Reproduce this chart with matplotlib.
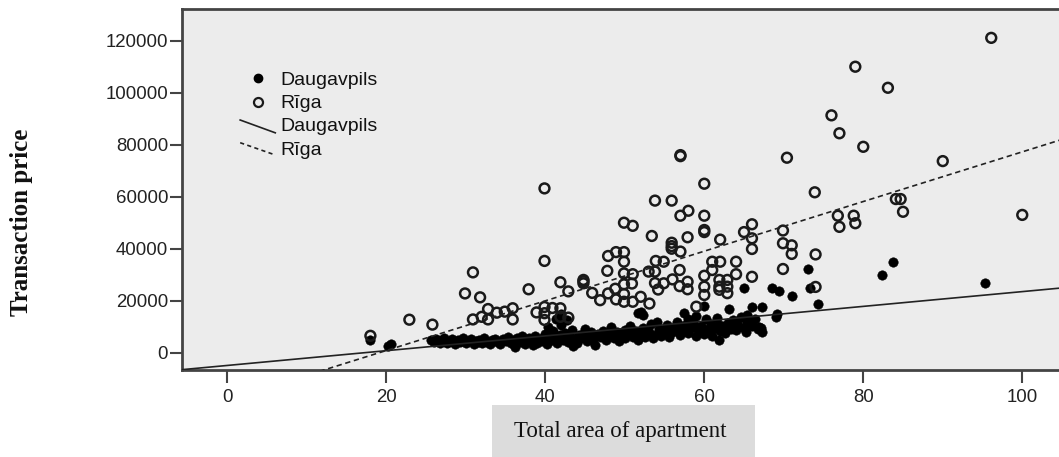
import matplotlib
matplotlib.use("Agg")
import matplotlib.pyplot as plt
from matplotlib.lines import Line2D
from matplotlib.patches import Rectangle
import numpy as np

# ---------------- data ----------------
riga_area = [96.1, 79.0, 83.1, 76.0, 77.0, 80.0, 57.0, 57.0, 70.4, 90.0, 60.0, 39.9, 73.9,
             53.8, 55.9, 84.1, 84.7, 58.0, 57.0, 60.0, 85.0, 100.0, 76.8, 78.8, 77.0, 79.0,
             49.9, 51.0, 53.4, 57.9, 60.0, 60.0, 62.0, 65.0, 66.0, 66.0, 66.0, 69.9, 69.9,
             71.0, 71.0, 74.0, 55.9, 55.9, 55.9, 57.0, 47.9, 48.9, 49.9, 39.9, 49.9, 53.9,
             54.9, 61.0, 62.0, 64.0, 30.9, 47.8, 49.9, 51.0, 53.0, 53.8, 56.9, 61.0, 69.9,
             66.0, 64.0, 44.8, 44.8, 44.8, 41.9, 37.9, 42.9, 45.9, 46.9, 47.9, 48.8, 49.9,
             50.9, 49.9, 48.9, 49.9, 51.0, 52.0, 53.1, 53.8, 54.9, 54.2, 56.0, 56.9, 57.9,
             57.9, 60.0, 60.0, 60.0, 61.9, 62.9, 61.9, 62.9, 61.9, 62.9, 59.0, 74.0, 29.9,
             31.8, 22.9, 25.8, 30.9, 32.0, 32.8, 33.9, 34.9, 35.9, 35.9, 32.8, 38.9, 39.9,
             40.9, 41.9, 39.9, 39.9, 41.9, 42.9, 18.0]
riga_price = [121100, 110000, 101900, 91300, 84400, 79200, 76000, 75600, 75000, 73700, 65000,
              63200, 61700, 58500, 58500, 59100, 59100, 54600, 52700, 52700, 54200, 53000,
              52700, 52700, 48400, 49800, 50000, 48800, 44900, 44400, 47200, 46400, 43500,
              46400, 49400, 44000, 39900, 47000, 42100, 41300, 38000, 37800, 42300, 41000,
              40000, 38900, 37200, 38700, 38700, 35300, 35000, 35300, 35000, 35000, 35000,
              35000, 30900, 31500, 30500, 30200, 31200, 31200, 31800, 31800, 32200, 29200,
              30200, 28000, 27500, 26700, 27100, 24400, 23600, 23000, 20200, 22800, 24600,
              26300, 26600, 22600, 20500, 19600, 19600, 21500, 18900, 26800, 26700, 24300,
              28200, 25600, 27300, 24400, 29600, 25400, 22200, 28000, 28000, 25400, 25400,
              24200, 22900, 17700, 25300, 22800, 21300, 12700, 10800, 12800, 13800, 16800,
              15400, 15800, 17100, 12800, 12800, 15500, 17600, 17200, 17100, 15200, 12600,
              13800, 13500, 6500]

daug_area = [18.0, 20.2, 20.6, 73.1, 83.8, 82.4, 95.3, 65.0, 68.5, 69.4, 71.0, 73.3, 74.3,
             63.1, 66.0, 67.2, 69.2, 69.0, 61.8, 67.1, 66.9, 60.0, 65.4, 65.4, 52.0, 52.3,
             51.7, 54.1, 41.7, 42.7, 41.3, 42.0,
             25.6, 26.0, 26.3, 26.7, 27.0, 27.3, 27.6, 28.0, 28.3, 28.7, 29.0, 29.3, 29.7,
             30.0, 30.3, 30.6, 31.0, 31.3, 31.7, 32.0, 32.3, 32.7, 33.0, 33.3, 33.7, 34.0,
             34.3, 34.7, 35.0, 35.3, 35.7, 36.0, 36.2, 36.5, 36.8, 37.1, 37.4, 37.8, 38.0,
             38.3, 38.5, 38.7, 39.0, 39.3, 39.6, 40.0, 40.0, 40.2, 40.4, 40.6, 40.8, 41.0,
             41.2, 41.5, 41.8, 42.0, 42.2, 42.5, 42.8, 43.0, 43.3, 43.5, 43.6, 44.0, 44.3,
             44.6, 45.0, 45.2, 45.5, 45.8, 46.0, 46.3, 46.6, 47.0, 47.3, 47.6, 48.0, 48.3,
             48.6, 49.0, 49.3, 49.6, 50.0, 50.0, 50.3, 50.6, 51.0, 51.3, 51.6, 52.0, 52.3,
             52.6, 53.0, 53.3, 53.6, 54.0, 54.3, 54.6, 55.0, 55.3, 55.6, 56.0, 56.3, 56.6,
             57.0, 57.3, 57.5, 57.6, 58.0, 58.0, 58.3, 58.6, 59.0, 59.0, 59.3, 59.6, 60.0,
             60.0, 60.2, 60.5, 60.8, 61.0, 61.3, 61.6, 62.0, 62.3, 62.6, 63.0, 63.3, 63.6,
             64.0, 64.3, 64.6, 65.0, 65.3, 65.7, 66.0, 66.4, 66.8, 67.2,
             27.8, 29.5, 31.5, 33.5, 35.5, 37.6, 39.8, 44.8, 46.8, 48.8, 50.8, 54.8, 56.8,
             58.8, 61.8, 63.8, 45.5, 47.5, 55.5, 62.8]
daug_price = [5000, 2600, 3500, 32100, 35000, 29900, 26700, 25000, 25000, 23800, 21800, 25000,
              18900, 16800, 17700, 17700, 14700, 13800, 4900, 9400, 9900, 17800, 14500, 11900,
              15800, 14500, 15100, 11900, 13900, 12600, 12900, 15000,
              4800, 4200, 5400, 3900, 4700, 5800, 3600, 4500, 5100, 3400, 4900, 4100, 5600,
              3800, 4600, 5300, 3200, 4400, 5000, 3900, 5700, 4300, 3500, 4800, 5400, 4000,
              3300, 5100, 4500, 6000, 3700, 4900, 2300, 5500, 4200, 6300, 3500, 4700, 5800,
              4100, 2800, 6600, 3800, 5200, 4500, 7200, 5600, 3400, 9800, 6300, 4700, 8300,
              5300, 3900, 6900, 10500, 5000, 7600, 4300, 6000, 8800, 2600, 5400, 3800, 7000,
              5800, 9300, 4600, 6600, 8100, 5200, 3000, 7300, 6000, 8500, 4900, 6800, 10000,
              5600, 7800, 4400, 6500, 8900, 5700, 7200, 10400, 6200, 8300, 4900, 7500, 9600,
              6000, 8100, 11000, 5500, 7300, 9200, 6600, 8700, 10800, 5900, 7800, 9900, 12000,
              6800, 8600, 15200, 10600, 7400, 13000, 9400, 11800, 6300, 14000, 8200, 10200, 7200,
              9300, 12800, 8000, 11000, 6600, 9600, 13200, 8400, 10400, 7400, 11600, 9000, 12600,
              8600, 10800, 13600, 9500, 7800, 11500, 10200, 12800, 9000, 8000,
              4300, 4700, 4200, 4400, 5000, 5300, 6000, 7200, 6400, 7100, 7600, 8200, 9100,
              9800, 10600, 11200, 5400, 5900, 7000, 9400]

# fitted lines: price = intercept + slope * area
fit_names = ["Daugavpils", "Rīga"]
fit_intercept = [-4900, -18250]
fit_slope = [284, 955]

x_ticks = [0, 20, 40, 60, 80, 100]
y_ticks = [0, 20000, 40000, 60000, 80000, 100000, 120000]
x_label = "Total area of apartment"
y_label = "Transaction price"

# ---------------- figure ----------------
W, H = 1059, 457
fig = plt.figure(figsize=(W / 100, H / 100), dpi=100)
fig.patch.set_facecolor("white")

ax_l, ax_r, ax_t, ax_b = 182, 1062, 9, 370
ax = fig.add_axes([ax_l / W, 1 - ax_b / H, (ax_r - ax_l) / W, (ax_b - ax_t) / H])
ax.set_facecolor("#ececec")
ax.set_xlim(-5.7, 105.0)
ax.set_ylim(-6650, 132200)

for s in ["left", "top", "bottom"]:
    ax.spines[s].set_linewidth(2.0)
    ax.spines[s].set_color("#444444")
ax.spines["right"].set_visible(False)

tick_font = dict(family="Liberation Sans", size=13.4)
ax.set_xticks(x_ticks)
ax.set_yticks(y_ticks)
ax.set_xticklabels([str(t) for t in x_ticks], **tick_font, color="#222222")
ax.set_yticklabels([str(t) for t in y_ticks], **tick_font, color="#222222")
ax.tick_params(axis="both", direction="out", length=9, width=1.5, color="#444444")
ax.tick_params(axis="x", pad=5)
ax.tick_params(axis="y", pad=1)

# scatter
ax.scatter(daug_area, daug_price, s=46, c="black", edgecolors="black", linewidths=0.4, zorder=3)
ax.scatter(riga_area, riga_price, s=50, facecolors="none", edgecolors="#1a1a1a", linewidths=1.8, zorder=4)

# fit lines
xl = np.array(ax.get_xlim())
styles = ["-", (0, (3.2, 2.2))]
for name, b0, b1, ls in zip(fit_names, fit_intercept, fit_slope, styles):
    ax.plot(xl, b0 + b1 * xl, color="#222222", lw=1.2, ls=ls, zorder=5)

# legend drawn by hand in axes coordinates (SPSS-style diagonal line handles)
tr = ax.transAxes
leg_font = dict(family="Liberation Sans", size=14, color="#111111", va="center", ha="left")
ax.plot([0.0861], [0.808], "o", ms=6, color="black", transform=tr, zorder=6)
ax.text(0.1117, 0.801, "Daugavpils", transform=tr, **leg_font)
ax.plot([0.0861], [0.742], "o", ms=6.5, mfc="none", mec="#1a1a1a", mew=1.6, transform=tr, zorder=6)
ax.text(0.1117, 0.737, "Rīga", transform=tr, **leg_font)
ax.add_line(Line2D([0.0661, 0.106], [0.6925, 0.657], color="#222222", lw=1.2, transform=tr))
ax.text(0.1117, 0.674, "Daugavpils", transform=tr, **leg_font)
ax.add_line(Line2D([0.0661, 0.106], [0.6296, 0.5956], color="#222222", lw=1.2,
                   ls=(0, (2.5, 2)), transform=tr))
ax.text(0.1117, 0.607, "Rīga", transform=tr, **leg_font)

# x label in grey box
fig.patches.append(Rectangle((492 / W, 0), (755 - 492) / W, (H - 405) / H,
                             transform=fig.transFigure, facecolor="#dcdcdc",
                             edgecolor="none", zorder=0))
fig.text(620 / W, 1 - 431 / H, x_label, family="Liberation Serif", size=16.5,
         ha="center", va="center", color="#111111")

# y label
fig.text(22 / W, 1 - 222 / H, y_label, family="Liberation Serif", weight="bold",
         size=18, rotation=90, ha="center", va="center", color="#111111")

fig.savefig("out.png", dpi=100)
